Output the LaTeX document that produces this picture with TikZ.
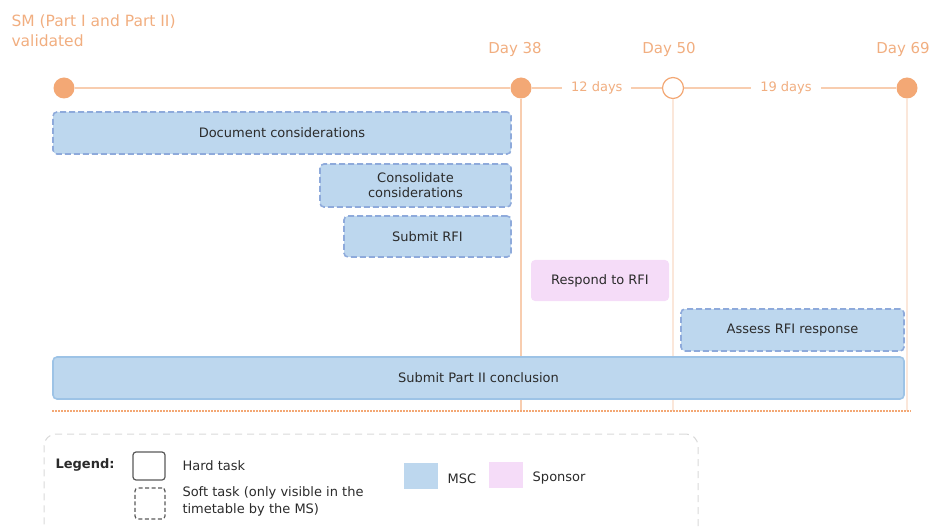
\documentclass[tikz,border=0pt]{standalone}
\usepackage{fontspec}
\setmainfont{DejaVu Sans}
\usepackage{xcolor}
\definecolor{cOrange}{HTML}{F3A875}
\definecolor{cOrangeText}{HTML}{F1AE80}
\definecolor{cLine}{HTML}{F8CDAF}
\definecolor{cFaint}{HTML}{FBE7DA}
\definecolor{cMSC}{HTML}{BDD7EE}
\definecolor{cMSCedge}{HTML}{9DC3E6}
\definecolor{cSoftEdge}{HTML}{8EAADB}
\definecolor{cSponsor}{HTML}{F5DCF8}
\definecolor{cText}{HTML}{2B2B2B}
\definecolor{cGray}{HTML}{595959}
\definecolor{cFrame}{HTML}{D9D9D9}
\usetikzlibrary{positioning,fit,calc}
\tikzset{
  task-hard/.style={draw=cMSCedge,line width=1.6pt,fill=cMSC,rounded corners=4pt,
    inner sep=0pt,align=center,text=cText,font=\fontsize{13}{15}\selectfont},
  task-soft/.style={task-hard,draw=cSoftEdge,dash pattern=on 6pt off 3pt},
  task-sponsor/.style={task-hard,draw=none,fill=cSponsor},
  milestone/.style={circle,fill=cOrange,minimum size=21pt,inner sep=0pt},
  milestone-open/.style={milestone,fill=white,draw=cOrange,line width=1.2pt},
  day-label/.style={text=cOrangeText,font=\fontsize{15}{20}\selectfont},
  span-label/.style={fill=white,text=cOrangeText,inner xsep=9pt,
    font=\fontsize{13}{15}\selectfont},
  timeline/.style={draw=cLine,line width=1.3pt},
  vline/.style={draw=cLine,line width=1.2pt},
  vline-faint/.style={draw=cFaint,line width=1.2pt},
  legend-frame/.style={draw=cFrame,line width=1pt,dash pattern=on 7pt off 5pt,
    rounded corners=12pt,inner sep=0pt},
  legend-text/.style={anchor=west,text=cText,align=left,
    font=\fontsize{13}{17}\selectfont},
  key-hard/.style={draw=cGray,line width=1.2pt,rounded corners=3pt,inner sep=0pt},
  key-soft/.style={key-hard,dash pattern=on 4pt off 2.5pt},
  key-fill/.style={inner sep=0pt},
}

\begin{document}
\begin{tikzpicture}[x=1pt,y=-1pt]
  \clip (0,0) rectangle (931,529);
  % milestones on the time line
  \node[milestone] (m0) at (64,88) {};
  \node[milestone] (m38) at (521,88) {};
  \node[milestone-open] (m50) at (673,88) {};
  \node[milestone] (m69) at (907,88) {};
  \node[day-label,anchor=north west,align=left,font=\fontsize{15.5}{20}\selectfont]
       (title) at (8,11) {SM (Part I and Part II)\\validated};
  \node[day-label,above=17pt of m38,xshift=-6pt] (d38) {Day 38};
  \node[day-label,above=17pt of m50,xshift=-4pt] (d50) {Day 50};
  \node[day-label,above=17pt of m69,xshift=-4pt] (d69) {Day 69};
  \draw[timeline] (m0) -- (m38);
  \draw[timeline] (m38) -- node[span-label] {12 days} (m50);
  \draw[timeline] (m50) -- node[span-label,pos=0.48] {19 days} (m69);
  \coordinate (base-l) at (52,411);
  \coordinate (base-r) at (911,411);
  \draw[vline] (m38.south) -- (m38.south |- base-l);
  \draw[vline-faint] (m50.south) -- (m50.south |- base-l);
  \draw[vline-faint] (m69.south) -- (m69.south |- base-l);
  \draw[cOrange,line width=1.2pt,dash pattern=on 1.5pt off 1.5pt] (base-l) -- (base-r);

  % tasks
  \node[task-soft,minimum width=458pt,minimum height=42pt] (doc) at (282,133)
       {Document considerations};
  \node[task-soft,minimum width=191pt,minimum height=43pt] (cons) at (415.5,185.5)
       {Consolidate\\considerations};
  \node[task-soft,minimum width=167pt,minimum height=41pt] (rfi) at (427.5,236.5)
       {Submit RFI};
  \node[task-sponsor,minimum width=138pt,minimum height=41pt] (resp) at (600,280.5)
       {Respond to RFI};
  \node[task-soft,minimum width=223pt,minimum height=42pt] (assess) at (792.5,330)
       {Assess RFI response};
  \node[task-hard,minimum width=851pt,minimum height=42pt] (concl) at (478.5,378)
       {Submit Part II conclusion};

  % legend
  \node[legend-frame,fit={(44,434) (698,560)}] (legend) {};
  \node[legend-text,font=\bfseries\fontsize{13}{15}\selectfont] (leg) at (52,465) {Legend:};
  \node[key-hard,fit={(133,452) (165,480)}] (k-hard) {};
  \node[key-soft,fit={(135,488) (165,519)}] (k-soft) {};
  \node[legend-text] (t-hard) at (179,466) {Hard task};
  \node[legend-text] (t-soft) at (179,501) {Soft task (only visible in the\\timetable by the MS)};
  \node[key-fill,fill=cMSC,fit={(404,463) (438,489)}] (k-msc) {};
  \node[key-fill,fill=cSponsor,fit={(489,462) (523,488)}] (k-spon) {};
  \node[legend-text,right=6pt of k-msc,yshift=-3pt] (t-msc) {MSC};
  \node[legend-text,right=6pt of k-spon,yshift=-3pt] (t-spon) {Sponsor};
\end{tikzpicture}
\end{document}
